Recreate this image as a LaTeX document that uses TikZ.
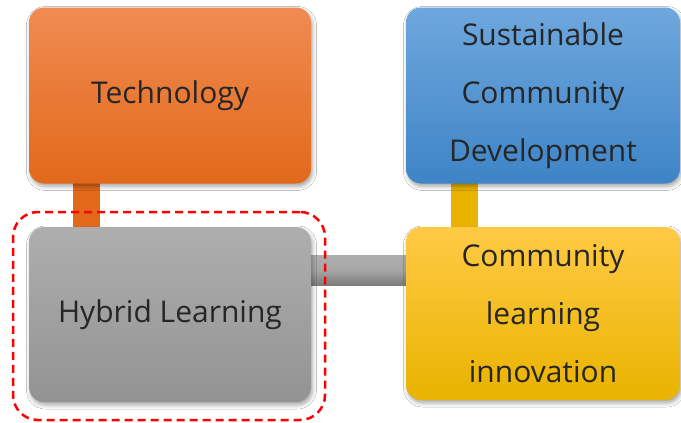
\documentclass[tikz,border=0pt]{standalone}
\usepackage{fontspec}
\setmainfont{Open Sans}
\usetikzlibrary{shadows.blur}
\definecolor{orTop}{HTML}{F08B52}
\definecolor{orBot}{HTML}{E2691A}
\definecolor{blTop}{HTML}{6EA7DD}
\definecolor{blBot}{HTML}{3E84C6}
\definecolor{gyTop}{HTML}{AEAEAE}
\definecolor{gyBot}{HTML}{939393}
\definecolor{ylTop}{HTML}{FFCA45}
\definecolor{ylBot}{HTML}{E9B300}
\definecolor{txt}{HTML}{262626}
\tikzset{
  box/.style={rounded corners=15pt, inner sep=0pt, align=center, text=txt,
    font=\fontsize{30}{58}\selectfont,
    blur shadow={shadow xshift=1.5pt, shadow yshift=-3pt, shadow blur radius=4pt, shadow opacity=35}},
  link/.style={line width=27pt},
}
\begin{document}
\begin{tikzpicture}[x=1pt,y=-1pt]
\useasboundingbox[fill=white] (0,0) rectangle (681,423);
% connectors (behind)
\coordinate (tc) at (86.5,183);
\coordinate (hc) at (86.5,228);
\coordinate (sc) at (464,183);
\coordinate (yc) at (464,228);
\coordinate (ge) at (305,270);
\coordinate (yw) at (410,270);
\draw[link, draw=orBot] (tc) -- (hc);
\draw[link, draw=ylBot] (sc) -- (yc);
\fill[top color=gyTop, bottom color=gyBot!85!black, middle color=gyTop!95!black] ([yshift=15pt]ge) rectangle ([yshift=-15pt]yw);
% boxes
\node[box, minimum width=282pt, minimum height=176pt, top color=orTop, bottom color=orBot] (tech) at (170,95.5) {\raisebox{3pt}{Technology}};
\node[box, minimum width=274pt, minimum height=176pt, top color=blTop, bottom color=blBot] (sus) at (543,95.5) {Sustainable\\Community\\Development};
\node[box, minimum width=282pt, minimum height=175pt, top color=gyTop, bottom color=gyBot] (hyb) at (170,314.5) {\raisebox{3pt}{Hybrid Learning}};
\node[box, minimum width=274pt, minimum height=173pt, top color=ylTop, bottom color=ylBot] (yel) at (543,313.5) {Community\\learning\\innovation};
% dashed highlight
\node[draw=red, line width=2.5pt, dash pattern=on 8pt off 5pt, rounded corners=25pt,
  minimum width=312pt, minimum height=208pt] (hl) at (169,316) {};
\end{tikzpicture}
\end{document}
